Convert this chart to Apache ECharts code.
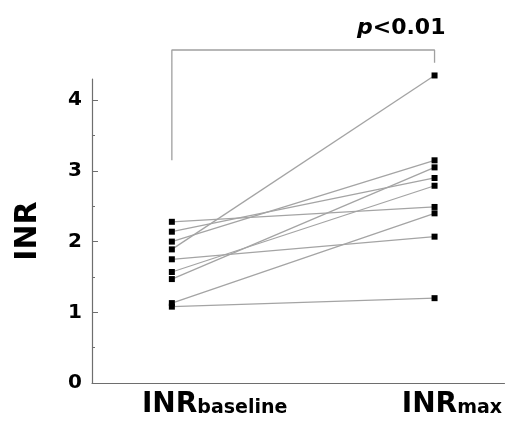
<!DOCTYPE html>
<html>
<head>
<meta charset="utf-8">
<script src="https://cdn.jsdelivr.net/npm/echarts@6/dist/echarts.min.js"></script>
<style>html,body{margin:0;padding:0;background:#fff}#c{width:505px;height:425px}</style>
</head>
<body>
<div id="c"></div>
<script>
// Data
const categories = ['INRbaseline', 'INRmax'];
const inrBaseline = [2.28, 2.14, 2.00, 1.89, 1.75, 1.57, 1.47, 1.13, 1.08];
const inrMax      = [2.49, 2.90, 3.15, 4.35, 2.07, 2.79, 3.05, 2.40, 1.20];
const yTicks = [0, 1, 2, 3, 4];
const yMinorTicks = [0.5, 1.5, 2.5, 3.5];
const bracketX = [1, 1, 2, 2];
const bracketY = [3.15, 4.71, 4.71, 4.53];
const pText = 'p<0.01';

const FONT = 'DejaVu Sans';
const axisColor = '#6e6e6e';

const series = inrBaseline.map((b, i) => ({
  type: 'line',
  data: [[1, b], [2, inrMax[i]]],
  symbol: 'rect',
  symbolSize: 6,
  clip: false,
  lineStyle: { color: '#a4a4a4', width: 1.3 },
  itemStyle: { color: '#000' },
  z: 3
}));
series.push({
  type: 'line',
  data: bracketX.map((x, i) => [x, bracketY[i]]),
  symbol: 'none',
  clip: false,
  lineStyle: { color: '#a0a0a0', width: 1.3 },
  z: 2
});

const chart = echarts.init(document.getElementById('c'), null, { renderer: 'canvas' });
chart.setOption({
  animation: false,
  backgroundColor: '#fff',
  title: {
    text: '{p|' + pText.slice(0, 1) + '}{t|' + pText.slice(1) + '}',
    left: 352,
    top: 12,
    textStyle: {
      rich: {
        p: { fontFamily: FONT, fontSize: 22, fontWeight: 'bold', fontStyle: 'italic', color: '#000' },
        t: { fontFamily: FONT, fontSize: 22, fontWeight: 'bold', color: '#000' }
      }
    }
  },
  grid: { left: 92, right: 0, top: 79, bottom: 42, containLabel: false },
  xAxis: {
    type: 'value',
    min: 0.696,
    max: 2.266,
    splitLine: { show: false },
    axisTick: { show: false },
    axisLine: { lineStyle: { color: axisColor, width: 1.2 } },
    axisLabel: {
      customValues: [0.886, 1.875],
      align: 'left',
      margin: 8,
      formatter: v => {
        const name = v < 1.5 ? categories[0] : categories[1];
        return '{a|' + name.slice(0, 3) + '}{b|' + name.slice(3) + '}';
      },
      rich: {
        a: { fontFamily: FONT, fontSize: 28, fontWeight: 'bold', color: '#000', verticalAlign: 'bottom' },
        b: { fontFamily: FONT, fontSize: 19, fontWeight: 'bold', color: '#000', verticalAlign: 'bottom', padding: [0, 0, 1, 0] }
      }
    }
  },
  yAxis: [{
    type: 'value',
    min: 0,
    max: 4.3,
    interval: 1,
    name: 'INR',
    nameLocation: 'middle',
    nameGap: 49,
    nameTextStyle: { fontFamily: FONT, fontSize: 30, fontWeight: 'bold', color: '#000' },
    splitLine: { show: false },
    axisLine: { show: true, lineStyle: { color: axisColor, width: 1.2 } },
    axisTick: { show: true, inside: true, length: 6, customValues: yTicks, lineStyle: { color: axisColor } },
    axisLabel: {
      customValues: yTicks,
      margin: 10,
      fontFamily: FONT, fontSize: 20, fontWeight: 'bold', color: '#000'
    }
  }, {
    type: 'value',
    position: 'left',
    min: 0,
    max: 4.3,
    interval: 1,
    splitLine: { show: false },
    axisLine: { show: false },
    axisLabel: { show: false },
    axisTick: { show: true, inside: true, length: 3, customValues: yMinorTicks, lineStyle: { color: axisColor } }
  }],
  series: series
});
</script>
</body>
</html>
